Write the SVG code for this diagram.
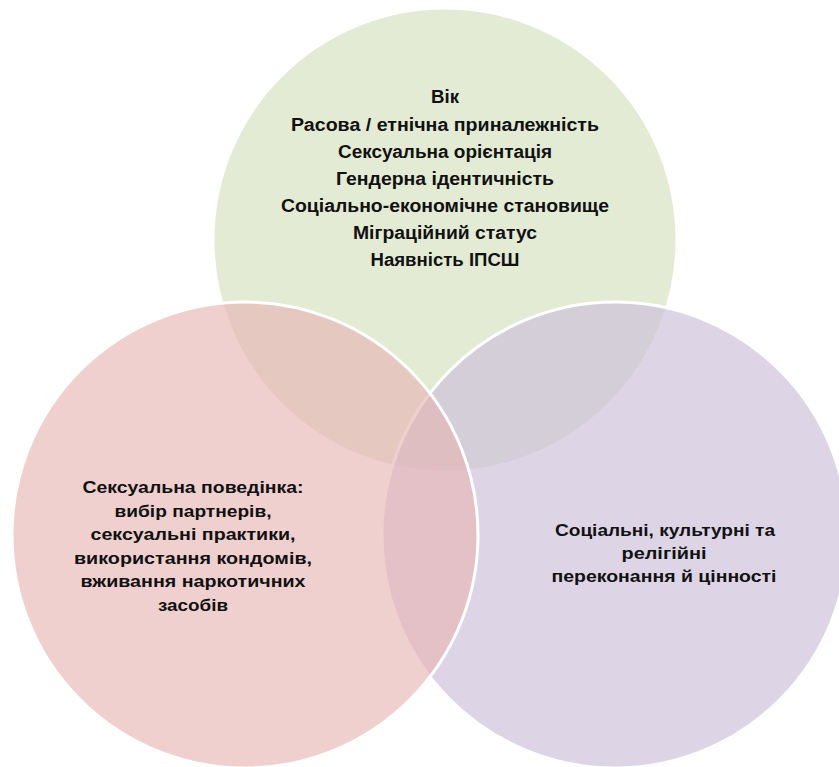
<svg xmlns="http://www.w3.org/2000/svg" width="839" height="767" viewBox="0 0 839 767">
  <style>
    .c { stroke: #ffffff; stroke-width: 3; fill-opacity: 0.64; }
    .t { font-family: "Liberation Sans", Arial, sans-serif; font-weight: bold; fill: #111111; text-anchor: middle; }
    .g { font-size: 18px; }
    .s { font-size: 17px; }
  </style>
  <rect width="839" height="767" fill="#ffffff"/>
  <g id="node-green">
    <circle class="c" cx="445" cy="240" r="232" fill="#D3E0BC"/>
    <text class="t g" x="445" y="103" textLength="28" lengthAdjust="spacingAndGlyphs">Вік</text>
    <text class="t g" x="445" y="131" textLength="308" lengthAdjust="spacingAndGlyphs">Расова  / етнічна приналежність</text>
    <text class="t g" x="445" y="158" textLength="214" lengthAdjust="spacingAndGlyphs">Сексуальна орієнтація</text>
    <text class="t g" x="445" y="185" textLength="218" lengthAdjust="spacingAndGlyphs">Гендерна ідентичність</text>
    <text class="t g" x="445" y="212" textLength="328" lengthAdjust="spacingAndGlyphs">Соціально-економічне становище</text>
    <text class="t g" x="445" y="239" textLength="184" lengthAdjust="spacingAndGlyphs">Міграційний  статус</text>
    <text class="t g" x="445" y="266" textLength="149" lengthAdjust="spacingAndGlyphs">Наявність  ІПСШ</text>
  </g>
  <g id="node-purple">
    <circle class="c" cx="615" cy="535" r="233" fill="#CABDD8"/>
    <text class="t s" x="665" y="536" textLength="220" lengthAdjust="spacingAndGlyphs">Соціальні, культурні та</text>
    <text class="t s" x="664" y="559" textLength="85" lengthAdjust="spacingAndGlyphs">релігійні</text>
    <text class="t s" x="664" y="582" textLength="225" lengthAdjust="spacingAndGlyphs">переконання й цінності</text>
  </g>
  <g id="node-pink">
    <circle class="c" cx="245" cy="535" r="233" fill="#E6B6B4"/>
    <text class="t s" x="193" y="493" textLength="221" lengthAdjust="spacingAndGlyphs">Сексуальна поведінка:</text>
    <text class="t s" x="193" y="517" textLength="157" lengthAdjust="spacingAndGlyphs">вибір партнерів,</text>
    <text class="t s" x="193" y="540" textLength="205" lengthAdjust="spacingAndGlyphs">сексуальні практики,</text>
    <text class="t s" x="193" y="564" textLength="238" lengthAdjust="spacingAndGlyphs">використання кондомів,</text>
    <text class="t s" x="193" y="587" textLength="225" lengthAdjust="spacingAndGlyphs">вживання наркотичних</text>
    <text class="t s" x="193" y="611" textLength="70" lengthAdjust="spacingAndGlyphs">засобів</text>
  </g>
</svg>
